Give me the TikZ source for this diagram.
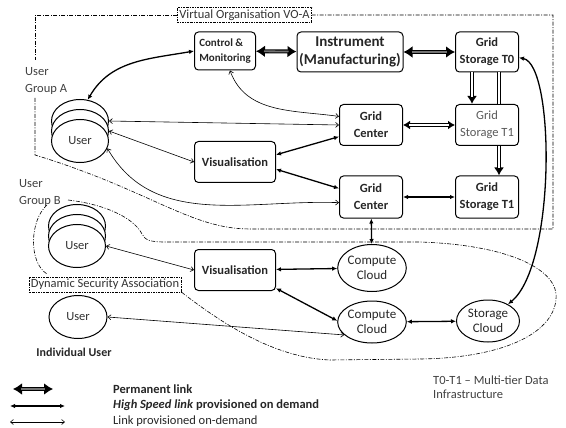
\documentclass[tikz,border=0pt]{standalone}
\usepackage{fontspec}
\setmainfont{Carlito}
\usetikzlibrary{arrows.meta,shapes.geometric}

\tikzset{
  box/.style={draw, rounded corners=4pt, line width=1pt, align=center, inner sep=1pt,
    minimum width=63pt, minimum height=41pt, text=black!85},
  cloudell/.style={draw, ellipse, line width=1pt, align=center, inner sep=0pt,
    minimum width=63pt, minimum height=42pt, text=black!85,
    font=\fontsize{13}{14.5}\selectfont},
  usr/.style={draw, ellipse, line width=1pt, fill=white, inner sep=0pt,
    minimum width=57pt, minimum height=43pt, text=black!80,
    font=\fontsize{12.5}{14}\selectfont},
  lbl/.style={text=black!75, align=left, inner sep=0pt, font=\fontsize{12.5}{17}\selectfont},
  tag/.style={draw, line width=0.5pt, dash pattern=on 2pt off 1pt on 0.6pt off 1pt,
    inner sep=2pt, text=black!80, font=\fontsize{12.5}{14}\selectfont},
  bound/.style={line width=0.6pt, dash pattern=on 4pt off 1.5pt on 1pt off 1.5pt},
  perm/.style={line width=4pt, {Latex[length=9pt,width=12pt]}-{Latex[length=9pt,width=12pt]},
    postaction={draw=black!55, line width=1.8pt, arrows=-, shorten <=8pt, shorten >=8pt}},
  dbl/.style={line width=0.9pt, double=white, double distance=2pt},
  dblarrow/.style={line width=3.8pt, -{Latex[length=8pt,width=10pt]},
    postaction={draw=white, line width=2pt, arrows=-, shorten >=7pt}},
  dblboth/.style={line width=3.6pt, {Latex[length=7pt,width=9pt]}-{Latex[length=7pt,width=9pt]},
    postaction={draw=white, line width=1.8pt, arrows=-, shorten >=6pt, shorten <=6pt}},
  hs/.style={line width=1.3pt, {Latex[length=5pt,width=4.5pt]}-{Latex[length=5pt,width=4.5pt]}},
  ondemand/.style={line width=0.6pt,
    {Straight Barb[length=3pt,width=5pt]}-{Straight Barb[length=3pt,width=5pt]}},
  legtext/.style={anchor=west, inner sep=0pt, text=black!85, font=\fontsize{12.5}{14}\selectfont},
}

\begin{document}
\begin{tikzpicture}[x=1pt,y=1pt]
\useasboundingbox (0,0) rectangle (566,-428);

% top row
\node[box, minimum width=61pt, minimum height=38pt, align=left,
  font=\bfseries\fontsize{11}{15}\selectfont] (cm) at (225,-51) {Control \&\\Monitoring};
\node[box, minimum width=106pt, minimum height=40pt,
  font=\bfseries\fontsize{15}{18}\selectfont] (inst) at (350,-52) {Instrument\\(Manufacturing)};
\node[box, minimum height=40pt, font=\bfseries\fontsize{12.5}{17}\selectfont] (gst0) at (487,-52) {Grid\\Storage T0};

% grid centres and storage
\node[box, font=\bfseries\fontsize{12.5}{17}\selectfont] (gcA) at (371,-125) {Grid\\Center};
\node[box, font=\fontsize{12.5}{17}\selectfont, text=black!65] (gst1A) at (487,-125) {Grid\\Storage T1};
\node[box, minimum height=42pt, font=\bfseries\fontsize{12.5}{17}\selectfont] (gcB) at (371,-197) {Grid\\Center};
\node[box, minimum height=42pt, font=\bfseries\fontsize{12.5}{17}\selectfont] (gst1B) at (487,-197) {Grid\\Storage T1};

% visualisation
\node[box, minimum width=81pt, font=\bfseries\fontsize{12.5}{15}\selectfont] (visA) at (235,-162) {Visualisation};
\node[box, minimum width=81pt, font=\bfseries\fontsize{12.5}{15}\selectfont] (visB) at (235,-270) {Visualisation};

% clouds
\node[cloudell, minimum height=47pt] (ccA) at (372,-268) {Compute\\Cloud};
\node[cloudell] (ccB) at (372,-322) {Compute\\Cloud};
\node[cloudell] (stc) at (488,-321) {Storage\\Cloud};

% users
\node[usr] (UA3) at (80,-121) {};
\node[usr] (UA2) at (80,-131) {};
\node[usr] (UA) at (80,-141) {User};
\node[usr] (UB3) at (77,-226) {};
\node[usr] (UB2) at (77,-236) {};
\node[usr] (UB) at (77,-246) {User};
\node[usr, minimum width=58pt] (UI) at (78,-317) {User};
\node[text=black!85, font=\bfseries\fontsize{12}{14}\selectfont] (uilbl) at (74,-352) {Individual User};

% group labels
\node[lbl, anchor=west] (lga) at (25,-81) {User\\Group A};
\node[lbl, anchor=west] (lgb) at (19,-193) {User\\Group B};
\node[tag] (vo) at (244.5,-15) {Virtual Organisation VO-A};
\node[tag] (dsa) at (105,-284.5) {Dynamic Security Association};

% boundaries
\draw[bound] (vo.west) -- (35,-15) -- (35,-60);
\draw[bound] (35,-98) -- (35,-155) .. controls (150,-190) and (190,-229) .. (250,-229)
  -- (553,-229) -- (553,-15) -- (vo.east);
\draw[bound] (68,-200) .. controls (110,-205) and (135,-220) .. (142,-234)
  .. controls (145,-240) and (150,-242) .. (165,-242) -- (420,-242)
  .. controls (510,-245) and (560,-270) .. (556,-300)
  .. controls (552,-335) and (500,-358) .. (420,-359) -- (330,-360)
  .. controls (280,-358) and (230,-330) .. (dsa.south east);
\draw[bound] (47,-205) .. controls (30,-220) and (28,-262) .. (47,-274);

% permanent links
\draw[perm] (cm) -- (inst);
\draw[perm] (inst) -- (gst0);
\draw[dblboth] (gcA) -- (gst1A);

% tier links
\draw[dblarrow] ([xshift=-15pt]gst0.south) -- ([xshift=-15pt]gst1A.north);
\draw[dbl] ([xshift=12pt]gst0.south) -- ([xshift=12pt]gst1A.north);
\draw[dblarrow] ([xshift=12pt]gst1A.south) -- ([xshift=12pt]gst1B.north);

% high speed links
\draw[hs] (cm.west) to[out=190, in=60] (UA3.70);
\draw[hs] (gst0.-10) .. controls (555,-65) and (556,-265) .. (stc.40);
\draw[hs] (visA.10) -- (gcA.200);
\draw[hs] (visA.-10) -- (gcB.165);
\draw[hs] (gcB) -- (gst1B);
\draw[hs] (gcB) -- (ccA);
\draw[hs] (visB) -- (ccA);
\draw[hs] (visB.-24) -- (ccB.178);
\draw[hs] (ccB) -- (stc);

% on-demand links
\draw[ondemand] ([xshift=5pt]cm.south) to[out=-70, in=172] (gcA.165);
\draw[ondemand] (UA3.east) -- (gcA.west);
\draw[ondemand] (UA2.east) -- (visA.west);
\draw[ondemand] (UA.-15) to[out=-60, in=178] (gcB.190);
\draw[ondemand] (UB.east) -- (visB.west);
\draw[ondemand] (UI.east) -- (ccB.205);

% legend
\coordinate (p1) at (13,-389);  \coordinate (p2) at (53,-389);
\coordinate (h1) at (10,-406);  \coordinate (h2) at (65,-406);
\coordinate (o1) at (10,-422);  \coordinate (o2) at (65,-422);
\draw[perm] (p1) -- (p2);
\draw[hs] (h1) -- (h2);
\draw[ondemand] (o1) -- (o2);
\node[legtext, font=\bfseries\fontsize{12.5}{14}\selectfont] (lp) at (113,-389) {Permanent link};
\node[legtext, font=\bfseries\fontsize{12.5}{14}\selectfont] (lh) at (113,-405) {\textit{High Speed link} provisioned on demand};
\node[legtext] (lo) at (113,-421) {Link provisioned on-demand};
\node[lbl, anchor=north west, font=\fontsize{12.5}{14}\selectfont] (tier) at (433,-376) {T0-T1 -- Multi-tier Data\\Infrastructure};
\end{tikzpicture}
\end{document}
